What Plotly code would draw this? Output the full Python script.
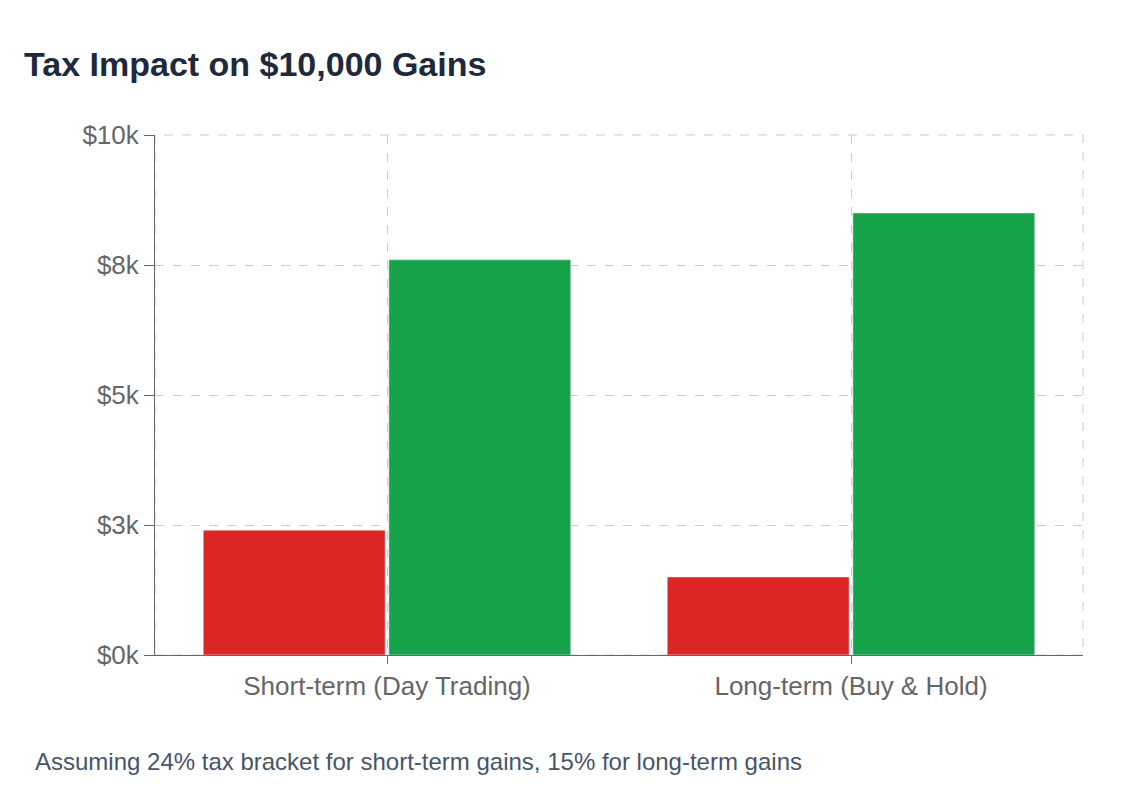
import plotly.graph_objects as go

categories = ["Short-term (Day Trading)", "Long-term (Buy & Hold)"]
tax_paid = [2400, 1500]
net_gain = [7600, 8500]
tick_vals = [0, 2500, 5000, 7500, 10000]
tick_text = ["$0k", "$3k", "$5k", "$8k", "$10k"]

fig = go.Figure()
fig.add_trace(go.Bar(x=categories, y=tax_paid, name="Tax Paid", marker_color="#dc2626"))
fig.add_trace(go.Bar(x=categories, y=net_gain, name="Net Gain", marker_color="#16a34a"))

fig.update_layout(
    width=1144, height=805,
    paper_bgcolor="white", plot_bgcolor="white",
    font=dict(family="Liberation Sans, Arial, sans-serif", color="#666666", size=26),
    title=dict(text="<b>Tax Impact on $10,000 Gains</b>", x=0.014, xanchor="left", y=0.945,
               font=dict(size=34, color="#1e293b")),
    margin=dict(l=147, r=69, t=127, b=158, autoexpand=False),
    barmode="group", bargap=0.2, bargroupgap=0.02,
    showlegend=False,
    annotations=[dict(text="Assuming 24% tax bracket for short-term gains, 15% for long-term gains",
                      xref="paper", yref="paper", x=-0.132, y=-0.205, xanchor="left", yanchor="middle",
                      showarrow=False, font=dict(size=24, color="#475569"))],
)
fig.update_yaxes(range=[0, 10000], tickvals=tick_vals, ticktext=tick_text,
                 showgrid=True, gridcolor="#cccccc", griddash="dash",
                 showline=True, linecolor="#666666", ticks="outside", ticklen=10, tickcolor="#666666",
                 zeroline=False, automargin=False)
fig.update_xaxes(showgrid=True, gridcolor="#cccccc", griddash="dash",
                 showline=True, linecolor="#666666", ticks="outside", ticklen=8, tickcolor="#666666",
                 automargin=False)
fig.add_shape(type="rect", xref="paper", yref="paper", x0=0, x1=1, y0=0, y1=1,
              line=dict(color="#cccccc", dash="dash", width=1), layer="below")
fig.write_html("out.html")
